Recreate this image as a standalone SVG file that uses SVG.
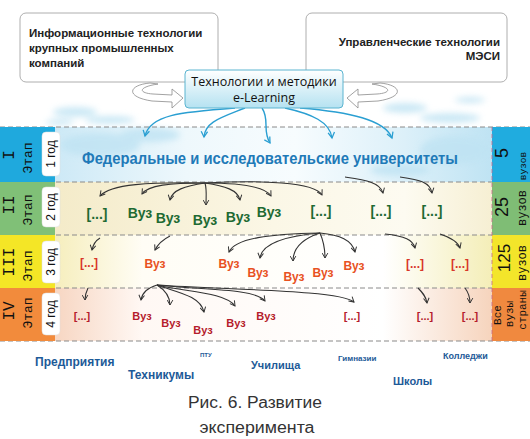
<svg xmlns="http://www.w3.org/2000/svg" width="530" height="439" viewBox="0 0 530 439">
<style>
.box{fill:#fff;stroke:#9a9a9a;stroke-width:0.8}
.bt{font-family:"Liberation Sans",Arial,sans-serif;font-weight:bold;font-size:11.5px;fill:#222}
.ct{font-family:"Open Sans","Liberation Sans",sans-serif;font-size:12.5px;fill:#111}
.dash{stroke:#8a8a8a;stroke-width:1;stroke-dasharray:5 3;fill:none}
.num{font-family:"Liberation Mono","Courier New",monospace;fill:#111}
.yr{font-family:"Liberation Sans",Arial,sans-serif;font-size:12px;fill:#111}
.yb{fill:#fff;stroke:#ddd;stroke-width:0.5}
.g{font-family:"Liberation Sans",Arial,sans-serif;font-weight:bold;font-size:14px;fill:#1e6a33;text-anchor:middle}
.o{font-family:"Liberation Sans",Arial,sans-serif;font-weight:bold;font-size:12px;fill:#e8521f;text-anchor:middle}
.r{font-family:"Liberation Sans",Arial,sans-serif;font-weight:bold;font-size:11px;fill:#b51c2c;text-anchor:middle}
.b{font-family:"Liberation Sans",Arial,sans-serif;font-weight:bold;fill:#1d5a98}
.cap{font-family:"Liberation Sans",Arial,sans-serif;font-size:16px;fill:#333;text-anchor:middle}
.cn{fill:none;stroke:#333;stroke-width:1.1;marker-end:url(#ad)}
.cb{fill:none;stroke:#2a9fd2;stroke-width:1.4;marker-end:url(#ab)}
.ha{fill:#fff;stroke:#8a8a8a;stroke-width:0.8}
</style>
<defs>
<marker id="ad" viewBox="0 0 10 10" refX="8" refY="5" markerWidth="7" markerHeight="7" orient="auto" markerUnits="userSpaceOnUse"><path d="M1,1 L8,5 L1,9" fill="none" stroke="#333" stroke-width="1.4"/></marker>
<marker id="ab" viewBox="0 0 10 10" refX="8" refY="5" markerWidth="8" markerHeight="8" orient="auto" markerUnits="userSpaceOnUse"><path d="M1,1 L8,5 L1,9" fill="none" stroke="#2a9fd2" stroke-width="1.6"/></marker>
<linearGradient id="gc" x1="0" y1="0" x2="0" y2="1"><stop offset="0" stop-color="#ffffff"/><stop offset="1" stop-color="#b5e2f1"/></linearGradient>
<linearGradient id="g1" x1="0" y1="0" x2="1" y2="0"><stop offset="0" stop-color="#cde9f6"/><stop offset="0.3" stop-color="#eef8fc"/><stop offset="0.55" stop-color="#f7fcfe"/><stop offset="0.8" stop-color="#dcf0f9"/><stop offset="1" stop-color="#bfe3f3"/></linearGradient>
<linearGradient id="g2" x1="0" y1="0" x2="1" y2="0"><stop offset="0" stop-color="#f4ebc9"/><stop offset="0.5" stop-color="#fbf7e6"/><stop offset="0.8" stop-color="#fdfbf1"/><stop offset="1" stop-color="#f6efd3"/></linearGradient>
<linearGradient id="g3" x1="0" y1="0" x2="1" y2="0"><stop offset="0" stop-color="#f6eebd"/><stop offset="0.2" stop-color="#fffdf5"/><stop offset="0.75" stop-color="#ffffff"/><stop offset="1" stop-color="#f4eeb8"/></linearGradient>
<linearGradient id="g4" x1="0" y1="0" x2="1" y2="0"><stop offset="0" stop-color="#f7d6c2"/><stop offset="0.2" stop-color="#fff8f4"/><stop offset="0.75" stop-color="#ffffff"/><stop offset="1" stop-color="#f6d4bd"/></linearGradient>
<filter id="bl" x="-50%" y="-50%" width="200%" height="200%"><feGaussianBlur stdDeviation="3"/></filter>
</defs>
<rect width="530" height="439" fill="#fff"/>

<g id="bands">
<rect x="55" y="127" width="437" height="55" fill="url(#g1)"/>
<rect x="55" y="182" width="437" height="53" fill="url(#g2)"/>
<rect x="55" y="235" width="437" height="53" fill="url(#g3)"/>
<rect x="55" y="288" width="437" height="53" fill="url(#g4)"/>
</g>
<g id="clouds" filter="url(#bl)" fill="#bfe3f3" opacity="0.8">
<ellipse cx="75" cy="112" rx="22" ry="5"/>
<ellipse cx="110" cy="120" rx="25" ry="4"/>
<ellipse cx="60" cy="122" rx="14" ry="3"/>
<ellipse cx="405" cy="108" rx="22" ry="5"/>
<ellipse cx="450" cy="118" rx="30" ry="5"/>
<ellipse cx="470" cy="100" rx="15" ry="3"/>
<ellipse cx="100" cy="145" rx="40" ry="12"/>
<ellipse cx="150" cy="135" rx="30" ry="7"/>
<ellipse cx="455" cy="150" rx="35" ry="14"/>
<ellipse cx="400" cy="170" rx="30" ry="6"/>
</g>

<g id="grid">
<line class="dash" x1="0" y1="127" x2="530" y2="127"/>
<line class="dash" x1="0" y1="182" x2="530" y2="182"/>
<line class="dash" x1="0" y1="235" x2="530" y2="235"/>
<line class="dash" x1="0" y1="288" x2="530" y2="288"/>
<line class="dash" x1="0" y1="341" x2="530" y2="341"/>
</g>

<g id="stage1">
<rect x="0" y="127" width="55" height="55" fill="#1fa9dd"/>
<text class="num" font-size="16" transform="translate(14,155) rotate(-90)" text-anchor="middle">I</text>
<text class="num" font-size="13" transform="translate(32,158) rotate(-90)" text-anchor="middle">Этап</text>
<rect class="yb" x="42" y="132" width="18" height="44" rx="4"/>
<text class="yr" transform="translate(55,154) rotate(-90)" text-anchor="middle">1 год</text>
</g>
<g id="stage2">
<rect x="0" y="182" width="55" height="53" fill="#80c077"/>
<text class="num" font-size="16" transform="translate(14,205) rotate(-90)" text-anchor="middle">II</text>
<text class="num" font-size="13" transform="translate(32,210) rotate(-90)" text-anchor="middle">Этап</text>
<rect class="yb" x="42" y="187" width="18" height="40" rx="4"/>
<text class="yr" transform="translate(55,207) rotate(-90)" text-anchor="middle">2 год</text>
</g>
<g id="stage3">
<rect x="0" y="235" width="55" height="53" fill="#f4e626"/>
<text class="num" font-size="16" transform="translate(14,262) rotate(-90)" text-anchor="middle">III</text>
<text class="num" font-size="13" transform="translate(32,266) rotate(-90)" text-anchor="middle">Этап</text>
<rect class="yb" x="42" y="241" width="18" height="42" rx="4"/>
<text class="yr" transform="translate(55,262) rotate(-90)" text-anchor="middle">3 год</text>
</g>
<g id="stage4">
<rect x="0" y="288" width="55" height="53" fill="#f28b3c"/>
<text class="num" font-size="16" transform="translate(14,311) rotate(-90)" text-anchor="middle">IV</text>
<text class="num" font-size="13" transform="translate(32,313) rotate(-90)" text-anchor="middle">Этап</text>
<rect class="yb" x="42" y="293" width="18" height="42" rx="4"/>
<text class="yr" transform="translate(55,314) rotate(-90)" text-anchor="middle">4 год</text>
</g>

<g id="count1">
<rect x="492" y="127" width="38" height="55" fill="#20acdf"/>
<text font-family="Liberation Sans,Arial,sans-serif" font-size="18" fill="#111" transform="translate(508,153) rotate(-90)" text-anchor="middle">5</text>
<text class="num" font-size="9.5" transform="translate(526,166) rotate(-90)" text-anchor="middle">вузов</text>
</g>
<g id="count2">
<rect x="492" y="182" width="38" height="53" fill="#7fbd75"/>
<text font-family="Liberation Sans,Arial,sans-serif" font-size="18" fill="#111" transform="translate(508,207) rotate(-90)" text-anchor="middle">25</text>
<text class="num" font-size="12" transform="translate(526,208) rotate(-90)" text-anchor="middle">вузов</text>
</g>
<g id="count3">
<rect x="492" y="235" width="38" height="53" fill="#f3e52a"/>
<text font-family="Liberation Sans,Arial,sans-serif" font-size="17" fill="#111" transform="translate(510,258) rotate(-90)" text-anchor="middle">125</text>
<text class="num" font-size="12" transform="translate(526,263) rotate(-90)" text-anchor="middle">вузов</text>
</g>
<g id="count4">
<rect x="492" y="288" width="38" height="53" fill="#f0893f"/>
<text class="num" font-size="11" transform="translate(501,315) rotate(-90)" text-anchor="middle">Все</text>
<text class="num" font-size="11" transform="translate(513,314) rotate(-90)" text-anchor="middle">вузы</text>
<text class="num" font-size="11" transform="translate(526,310) rotate(-90)" text-anchor="middle">страны</text>
</g>
<line x1="492" y1="127" x2="492" y2="341" stroke="#c86b8a" stroke-width="0.8" stroke-dasharray="4 3"/>

<g id="box-left">
<rect class="box" x="20" y="13" width="198" height="69" rx="6"/>
<text class="bt" x="29" y="37">Информационные технологии</text>
<text class="bt" x="29" y="52">крупных промышленных</text>
<text class="bt" x="29" y="67">компаний</text>
</g>
<g id="box-right">
<rect class="box" x="306" y="13" width="201" height="69" rx="6"/>
<text class="bt" x="500" y="46" text-anchor="end">Управленческие технологии</text>
<text class="bt" x="500" y="60" text-anchor="end">МЭСИ</text>
</g>

<g id="connectors">
<path class="ha" d="M150 83 C128 85,125 97,152 101 L172 102 L172 108 L183 98 L172 89 L172 95 L153 94 C138 93,138 87,158 84 Z"/>
<path class="ha" d="M380 83 C402 85,405 97,378 101 L358 102 L358 108 L347 98 L358 89 L358 95 L377 94 C392 93,392 87,372 84 Z"/>
<path class="cb" d="M235 108 C180 112,150 115,145 136"/>
<path class="cb" d="M245 108 C220 118,205 122,204 137"/>
<path class="cb" d="M262 108 C270 120,262 130,270 143"/>
<path class="cb" d="M285 108 C312 114,330 122,332 138"/>
<path class="cb" d="M300 108 C350 112,385 120,392 138"/>
<path class="cn" d="M205 183 C150 182,110 184,100 196"/>
<path class="cn" d="M205 183 C170 183,148 185,142 194"/>
<path class="cn" d="M205 183 C185 186,172 190,170 200"/>
<path class="cn" d="M205 183 C207 190,206 196,206 205"/>
<path class="cn" d="M205 183 C225 186,238 190,240 200"/>
<path class="cn" d="M205 183 C240 183,265 186,271 196"/>
<path class="cn" d="M205 183 C260 180,315 182,322 195"/>
<path class="cn" d="M345 177 C365 180,380 182,383 193"/>
<path class="cn" d="M400 177 C420 180,430 182,432 193"/>
<path class="cn" d="M320 233 C270 234,235 238,229 252"/>
<path class="cn" d="M320 233 C285 236,262 244,260 258"/>
<path class="cn" d="M320 233 C305 238,293 246,293 261"/>
<path class="cn" d="M320 233 C323 240,325 248,325 258"/>
<path class="cn" d="M320 233 C340 235,352 240,355 252"/>
<path class="cn" d="M170 236 C162 240,158 244,155 250"/>
<path class="cn" d="M100 238 C95 241,93 245,92 250"/>
<path class="cn" d="M385 234 C405 236,413 240,415 248"/>
<path class="cn" d="M440 234 C452 238,458 242,460 248"/>
<path class="cn" d="M157 285 C147 288,142 293,141 300"/>
<path class="cn" d="M157 285 C165 290,170 296,170 305"/>
<path class="cn" d="M157 285 C175 292,200 295,204 312"/>
<path class="cn" d="M157 285 C185 292,225 292,235 306"/>
<path class="cn" d="M157 285 C200 290,255 288,265 301"/>
<path class="cn" d="M157 285 C230 290,340 290,354 302"/>
<path class="cn" d="M88 288 C86 292,85 296,85 300"/>
<path class="cn" d="M418 288 C422 292,426 296,427 303"/>
<path class="cn" d="M465 288 C468 292,470 296,470 303"/>
</g>

<g id="box-center">
<rect x="185" y="70" width="158" height="38" rx="4" fill="url(#gc)" stroke="#5ab4d0" stroke-width="1"/>
<text class="ct" x="264" y="86" text-anchor="middle">Технологии и методики</text>
<text class="ct" x="264" y="102" text-anchor="middle">e-Learning</text>
</g>

<g id="row1">
<text x="270" y="164" font-family="Liberation Sans,Arial,sans-serif" font-weight="bold" font-size="17" fill="#1f7ab8" text-anchor="middle" textLength="376" lengthAdjust="spacingAndGlyphs">Федеральные и исследовательские университеты</text>
</g>
<g id="row2">
<text class="g" x="97" y="219">[...]</text>
<text class="g" x="140" y="218">Вуз</text>
<text class="g" x="168" y="223">Вуз</text>
<text class="g" x="205" y="225">Вуз</text>
<text class="g" x="238" y="222">Вуз</text>
<text class="g" x="269" y="217">Вуз</text>
<text class="g" x="321" y="216">[...]</text>
<text class="g" x="381" y="216">[...]</text>
<text class="g" x="432" y="216">[...]</text>
</g>
<g id="row3">
<text class="o" x="89" y="267" fill="#d8362a" style="fill:#d8362a">[...]</text>
<text class="o" x="155" y="268">Вуз</text>
<text class="o" x="229" y="268">Вуз</text>
<text class="o" x="258" y="277">Вуз</text>
<text class="o" x="294" y="281">Вуз</text>
<text class="o" x="323" y="277">Вуз</text>
<text class="o" x="354" y="270">Вуз</text>
<text class="o" x="415" y="268" style="fill:#d8362a">[...]</text>
<text class="o" x="460" y="268" style="fill:#d8362a">[...]</text>
</g>
<g id="row4">
<text class="r" x="82" y="320">[...]</text>
<text class="r" x="142" y="320">Вуз</text>
<text class="r" x="171" y="327">Вуз</text>
<text class="r" x="203" y="334">Вуз</text>
<text class="r" x="236" y="327">Вуз</text>
<text class="r" x="266" y="320">Вуз</text>
<text class="r" x="352" y="320">[...]</text>
<text class="r" x="425" y="320">[...]</text>
<text class="r" x="470" y="320">[...]</text>
</g>

<g id="institutions">
<text class="b" x="35" y="366" font-size="12">Предприятия</text>
<text class="b" x="200" y="357" font-size="6">ПТУ</text>
<text class="b" x="128" y="379" font-size="12">Техникумы</text>
<text class="b" x="251" y="369" font-size="11">Училища</text>
<text class="b" x="338" y="361" font-size="8">Гимназии</text>
<text class="b" x="443" y="359" font-size="9">Колледжи</text>
<text class="b" x="393" y="385" font-size="11">Школы</text>
</g>

<g id="caption">
<text class="cap" x="255" y="408" textLength="134" lengthAdjust="spacingAndGlyphs">Рис. 6. Развитие</text>
<text class="cap" x="257" y="433" textLength="115" lengthAdjust="spacingAndGlyphs">эксперимента</text>
</g>
</svg>
